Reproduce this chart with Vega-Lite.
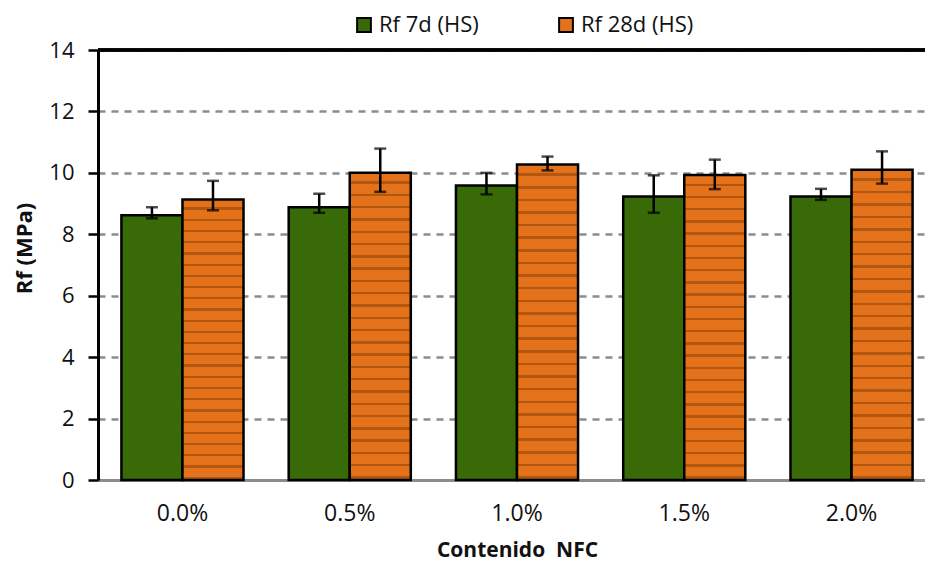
{
  "$schema": "https://vega.github.io/schema/vega-lite/v6.json",
  "width": 838,
  "height": 430,
  "autosize": "none",
  "padding": {"left": 98, "top": 50, "right": 0, "bottom": 83},
  "config": {
    "view": {"stroke": null},
    "font": "Open Sans"
  },
  "data": {
    "values": [
      {"cat": "0.0%", "series": "Rf 7d (HS)", "value": 8.62, "lo": 8.52, "hi": 8.88},
      {"cat": "0.0%", "series": "Rf 28d (HS)", "value": 9.13, "lo": 8.78, "hi": 9.74},
      {"cat": "0.5%", "series": "Rf 7d (HS)", "value": 8.88, "lo": 8.70, "hi": 9.32},
      {"cat": "0.5%", "series": "Rf 28d (HS)", "value": 10.0, "lo": 9.38, "hi": 10.79},
      {"cat": "1.0%", "series": "Rf 7d (HS)", "value": 9.59, "lo": 9.30, "hi": 10.0},
      {"cat": "1.0%", "series": "Rf 28d (HS)", "value": 10.27, "lo": 10.08, "hi": 10.53},
      {"cat": "1.5%", "series": "Rf 7d (HS)", "value": 9.23, "lo": 8.70, "hi": 9.92},
      {"cat": "1.5%", "series": "Rf 28d (HS)", "value": 9.93, "lo": 9.47, "hi": 10.43},
      {"cat": "2.0%", "series": "Rf 7d (HS)", "value": 9.23, "lo": 9.12, "hi": 9.48},
      {"cat": "2.0%", "series": "Rf 28d (HS)", "value": 10.1, "lo": 9.65, "hi": 10.70}
    ]
  },
  "encoding": {
    "x": {
      "field": "cat", "type": "nominal",
      "scale": {"paddingInner": 0.27, "paddingOuter": 0.14},
      "axis": {
        "title": "Contenido\u00a0\u00a0NFC", "titleFontSize": 21, "titleFontWeight": "bold", "titleColor": "#111",
        "titlePadding": 14,
        "labelAngle": 0, "labelFontSize": 23, "labelColor": "#111", "labelPadding": 22,
        "ticks": false, "domainColor": "#8c8c8c", "domainWidth": 3
      }
    },
    "xOffset": {"field": "series", "type": "nominal", "scale": {"domain": ["Rf 7d (HS)", "Rf 28d (HS)"], "paddingInner": 0}}
  },
  "layer": [
    {
      "transform": [{"filter": "datum.series === 'Rf 7d (HS)'"}],
      "mark": {"type": "bar", "stroke": "black", "strokeWidth": 2.5},
      "encoding": {
        "y": {
          "field": "value", "type": "quantitative",
          "scale": {"domain": [0, 14], "nice": false},
          "axis": {
            "title": "Rf (MPa)", "titleFontSize": 22, "titleFontWeight": "bold", "titleColor": "#111", "titlePadding": 12,
            "titleY": 198,
            "values": [0, 2, 4, 6, 8, 10, 12, 14],
            "labelFontSize": 22, "labelColor": "#111", "labelPadding": 14,
            "tickSize": 10, "tickColor": "black", "tickWidth": 2.5,
            "domainColor": "black", "domainWidth": 3,
            "grid": true, "gridColor": "#8c8c8c", "gridWidth": 2.5, "gridDash": [7, 6]
          }
        },
        "color": {
          "field": "series", "type": "nominal",
          "scale": {"domain": ["Rf 7d (HS)", "Rf 28d (HS)"], "range": ["#386a08", "#e3721a"]},
          "legend": {
            "orient": "none", "legendX": 255, "legendY": -36, "direction": "horizontal", "title": null,
            "symbolType": "square", "symbolSize": 190, "symbolStrokeColor": "black", "symbolStrokeWidth": 2,
            "labelFontSize": 22, "labelColor": "#111", "columnPadding": 76, "labelOffset": 4
          }
        }
      }
    },
    {
      "transform": [{"filter": "datum.series === 'Rf 28d (HS)'"}],
      "mark": {
        "type": "bar", "stroke": "black", "strokeWidth": 2.5,
        "fill": {
          "gradient": "linear", "x1": 0, "y1": 0, "x2": 0, "y2": 1,
          "stops": [
            {"offset": 0, "color": "#e3721a"},
            {"offset": 0.028, "color": "#e3721a"}, {"offset": 0.028, "color": "#b3560f"}, {"offset": 0.036, "color": "#b3560f"}, {"offset": 0.036, "color": "#e3721a"},
            {"offset": 0.068, "color": "#e3721a"}, {"offset": 0.068, "color": "#b3560f"}, {"offset": 0.076, "color": "#b3560f"}, {"offset": 0.076, "color": "#e3721a"},
            {"offset": 0.108, "color": "#e3721a"}, {"offset": 0.108, "color": "#b3560f"}, {"offset": 0.116, "color": "#b3560f"}, {"offset": 0.116, "color": "#e3721a"},
            {"offset": 0.148, "color": "#e3721a"}, {"offset": 0.148, "color": "#b3560f"}, {"offset": 0.156, "color": "#b3560f"}, {"offset": 0.156, "color": "#e3721a"},
            {"offset": 0.188, "color": "#e3721a"}, {"offset": 0.188, "color": "#b3560f"}, {"offset": 0.196, "color": "#b3560f"}, {"offset": 0.196, "color": "#e3721a"},
            {"offset": 0.228, "color": "#e3721a"}, {"offset": 0.228, "color": "#b3560f"}, {"offset": 0.236, "color": "#b3560f"}, {"offset": 0.236, "color": "#e3721a"},
            {"offset": 0.268, "color": "#e3721a"}, {"offset": 0.268, "color": "#b3560f"}, {"offset": 0.276, "color": "#b3560f"}, {"offset": 0.276, "color": "#e3721a"},
            {"offset": 0.308, "color": "#e3721a"}, {"offset": 0.308, "color": "#b3560f"}, {"offset": 0.316, "color": "#b3560f"}, {"offset": 0.316, "color": "#e3721a"},
            {"offset": 0.348, "color": "#e3721a"}, {"offset": 0.348, "color": "#b3560f"}, {"offset": 0.356, "color": "#b3560f"}, {"offset": 0.356, "color": "#e3721a"},
            {"offset": 0.388, "color": "#e3721a"}, {"offset": 0.388, "color": "#b3560f"}, {"offset": 0.396, "color": "#b3560f"}, {"offset": 0.396, "color": "#e3721a"},
            {"offset": 0.428, "color": "#e3721a"}, {"offset": 0.428, "color": "#b3560f"}, {"offset": 0.436, "color": "#b3560f"}, {"offset": 0.436, "color": "#e3721a"},
            {"offset": 0.468, "color": "#e3721a"}, {"offset": 0.468, "color": "#b3560f"}, {"offset": 0.476, "color": "#b3560f"}, {"offset": 0.476, "color": "#e3721a"},
            {"offset": 0.508, "color": "#e3721a"}, {"offset": 0.508, "color": "#b3560f"}, {"offset": 0.516, "color": "#b3560f"}, {"offset": 0.516, "color": "#e3721a"},
            {"offset": 0.548, "color": "#e3721a"}, {"offset": 0.548, "color": "#b3560f"}, {"offset": 0.556, "color": "#b3560f"}, {"offset": 0.556, "color": "#e3721a"},
            {"offset": 0.588, "color": "#e3721a"}, {"offset": 0.588, "color": "#b3560f"}, {"offset": 0.596, "color": "#b3560f"}, {"offset": 0.596, "color": "#e3721a"},
            {"offset": 0.628, "color": "#e3721a"}, {"offset": 0.628, "color": "#b3560f"}, {"offset": 0.636, "color": "#b3560f"}, {"offset": 0.636, "color": "#e3721a"},
            {"offset": 0.668, "color": "#e3721a"}, {"offset": 0.668, "color": "#b3560f"}, {"offset": 0.676, "color": "#b3560f"}, {"offset": 0.676, "color": "#e3721a"},
            {"offset": 0.708, "color": "#e3721a"}, {"offset": 0.708, "color": "#b3560f"}, {"offset": 0.716, "color": "#b3560f"}, {"offset": 0.716, "color": "#e3721a"},
            {"offset": 0.748, "color": "#e3721a"}, {"offset": 0.748, "color": "#b3560f"}, {"offset": 0.756, "color": "#b3560f"}, {"offset": 0.756, "color": "#e3721a"},
            {"offset": 0.788, "color": "#e3721a"}, {"offset": 0.788, "color": "#b3560f"}, {"offset": 0.796, "color": "#b3560f"}, {"offset": 0.796, "color": "#e3721a"},
            {"offset": 0.828, "color": "#e3721a"}, {"offset": 0.828, "color": "#b3560f"}, {"offset": 0.836, "color": "#b3560f"}, {"offset": 0.836, "color": "#e3721a"},
            {"offset": 0.868, "color": "#e3721a"}, {"offset": 0.868, "color": "#b3560f"}, {"offset": 0.876, "color": "#b3560f"}, {"offset": 0.876, "color": "#e3721a"},
            {"offset": 0.908, "color": "#e3721a"}, {"offset": 0.908, "color": "#b3560f"}, {"offset": 0.916, "color": "#b3560f"}, {"offset": 0.916, "color": "#e3721a"},
            {"offset": 0.948, "color": "#e3721a"}, {"offset": 0.948, "color": "#b3560f"}, {"offset": 0.956, "color": "#b3560f"}, {"offset": 0.956, "color": "#e3721a"},
            {"offset": 0.988, "color": "#e3721a"}, {"offset": 0.988, "color": "#b3560f"}, {"offset": 0.996, "color": "#b3560f"}, {"offset": 0.996, "color": "#e3721a"},
            {"offset": 1, "color": "#e3721a"}
          ]
        }
      },
      "encoding": {
        "y": {"field": "value", "type": "quantitative"}
      }
    },
    {
      "mark": {"type": "rule", "color": "black", "strokeWidth": 2.5},
      "encoding": {
        "y": {"field": "lo", "type": "quantitative"},
        "y2": {"field": "hi"}
      }
    },
    {
      "mark": {"type": "tick", "color": "black", "thickness": 2.5, "size": 12, "orient": "horizontal"},
      "encoding": {"y": {"field": "lo", "type": "quantitative"}}
    },
    {
      "mark": {"type": "tick", "color": "black", "thickness": 2.5, "size": 12, "orient": "horizontal"},
      "encoding": {"y": {"field": "hi", "type": "quantitative"}}
    },
    {
      "mark": {"type": "rule", "color": "black", "strokeWidth": 2.5},
      "encoding": {"y": {"datum": 14}, "x": null, "xOffset": null}
    }
  ]
}
